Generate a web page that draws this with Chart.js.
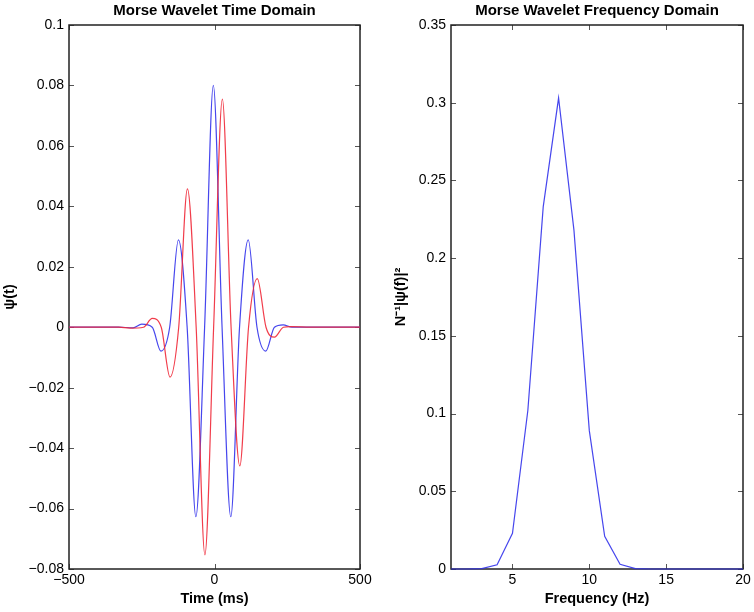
<!DOCTYPE html>
<html>
<head>
<meta charset="utf-8">
<script src="https://cdn.jsdelivr.net/npm/chart.js@4.4.1/dist/chart.umd.min.js"></script>
<style>
body { margin: 0; background: #fff; }
canvas { position: absolute; top: 0; }
#timeChart { left: 0; }
#freqChart { left: 377px; }
</style>
</head>
<body>
<canvas id="timeChart" width="377" height="612"></canvas>
<canvas id="freqChart" width="377" height="612"></canvas>
<script>
// tick labels
var timeTicksX = [-500, 0, 500];
var timeTicksY = [-0.08, -0.06, -0.04, -0.02, 0, 0.02, 0.04, 0.06, 0.08, 0.1];
var freqTicksX = [5, 10, 15, 20];
var freqTicksY = [0, 0.05, 0.1, 0.15, 0.2, 0.25, 0.3, 0.35];

// time domain (extrema and zero crossings)
var realTime   = [-500, -330, -280, -250, -214, -184, -154, -124, -94, -64, -34, -4, 26, 56, 86, 116, 146, 176, 206, 236, 266, 320, 500];
var realValues = [0, 0, -0.0002, 0.001, 0, -0.0079, 0, 0.0289, 0, -0.0627, 0, 0.080, 0, -0.0627, 0, 0.0289, 0, -0.0079, 0, 0.0008, 0, 0, 0];
var imagTime   = [-500, -330, -290, -244, -214, -183, -153, -123, -93, -63, -33, -3, 27, 57, 87, 117, 147, 177, 206, 237, 262, 330, 500];
var imagValues = [0, 0, -0.0003, 0, 0.0029, 0, -0.0165, 0, 0.0458, 0, -0.0753, 0, 0.0755, 0, -0.0459, 0, 0.0161, 0, -0.0033, 0, 0.0002, 0, 0];

// frequency domain
var freqHz    = [1, 2, 3, 4, 5, 6, 7, 8, 9, 10, 11, 12, 13, 14, 15, 16, 17, 18, 19, 20];
var freqPower = [0, 0, 0.0003, 0.0027, 0.023, 0.102, 0.233, 0.303, 0.218, 0.089, 0.021, 0.003, 0.0003, 0, 0, 0, 0, 0, 0, 0];

Chart.defaults.font.family = '"Liberation Sans", Arial, sans-serif';
Chart.defaults.color = '#000';

function pts(xs, ys) {
    return xs.map(function (x, i) { return { x: x, y: ys[i] }; });
}
function fmt(v) {
    var s = String(parseFloat(Math.abs(v).toFixed(2)));
    return (v < 0 ? '\u2212' : '') + s;
}
function setTicks(list) {
    return function (scale) { scale.ticks = list.map(function (v) { return { value: v }; }); };
}

// matlab style box with inward ticks on all sides
var boxTicks = {
    id: 'boxTicks',
    beforeDatasetsDraw: function (chart) {
        var ctx = chart.ctx, a = chart.chartArea;
        var xs = chart.scales.x, ys = chart.scales.y;
        ctx.save();
        ctx.strokeStyle = '#555';
        ctx.lineWidth = 1;
        ctx.beginPath();
        xs.ticks.forEach(function (t) {
            var px = Math.round(xs.getPixelForValue(t.value)) + 0.5;
            ctx.moveTo(px, a.bottom); ctx.lineTo(px, a.bottom - 5);
            ctx.moveTo(px, a.top); ctx.lineTo(px, a.top + 5);
        });
        ys.ticks.forEach(function (t) {
            var py = Math.round(ys.getPixelForValue(t.value)) + 0.5;
            ctx.moveTo(a.left, py); ctx.lineTo(a.left + 5, py);
            ctx.moveTo(a.right, py); ctx.lineTo(a.right - 5, py);
        });
        ctx.stroke();
        ctx.strokeStyle = '#222';
        ctx.lineWidth = 1.5;
        ctx.strokeRect(a.left, a.top, a.width, a.height);
        ctx.restore();
    }
};

function axisOpts(min, max, ticks, title, size, pad, titlePad) {
    return {
        type: 'linear', min: min, max: max,
        grid: { display: false, drawTicks: false },
        border: { display: false },
        afterBuildTicks: setTicks(ticks),
        ticks: { font: { size: 14 }, padding: pad, callback: fmt, autoSkip: false, maxRotation: 0 },
        title: { display: true, text: title, font: { size: 14.5, weight: 'bold' }, padding: titlePad }
    };
}

var timeX = axisOpts(-500, 500, timeTicksX, 'Time (ms)', 14, 3, { top: 0, bottom: 4 });
timeX.afterFit = function (scale) { scale.height = 43; };
var timeY = axisOpts(-0.08, 0.1, timeTicksY, '\u03c8(t)', 14, 5, { top: 1, bottom: 0 });
timeY.afterFit = function (scale) { scale.width = 69; };

var timeChart = new Chart('timeChart', {
    type: 'line',
    data: {
        datasets: [{
            label: 'real',
            data: pts(realTime, realValues),
            borderColor: 'rgba(50,50,235,0.9)',
            borderWidth: 1.2,
            pointRadius: 0,
            cubicInterpolationMode: 'monotone',
            order: 1
        }, {
            label: 'imag',
            data: pts(imagTime, imagValues),
            borderColor: 'rgba(240,40,55,0.9)',
            borderWidth: 1.2,
            pointRadius: 0,
            cubicInterpolationMode: 'monotone',
            order: 0
        }]
    },
    options: {
        responsive: false,
        animation: false,
        layout: { padding: { left: 0, right: 17, top: 0, bottom: 0 } },
        scales: { x: timeX, y: timeY },
        plugins: {
            legend: { display: false },
            tooltip: { enabled: false },
            title: {
                display: true, fullSize: false,
                text: 'Morse Wavelet Time Domain',
                font: { size: 15, weight: 'bold' },
                padding: { top: 2, bottom: 5 }
            }
        }
    },
    plugins: [boxTicks]
});

var freqX = axisOpts(1, 20, freqTicksX, 'Frequency (Hz)', 14, 3, { top: 0, bottom: 4 });
freqX.afterFit = function (scale) { scale.height = 43; };
var freqY = axisOpts(0, 0.35, freqTicksY, 'N\u207b\u00b9|\u03c8(f)|\u00b2', 14, 5, { top: 15, bottom: 0 });
freqY.afterFit = function (scale) { scale.width = 74; };

var freqChart = new Chart('freqChart', {
    type: 'line',
    data: {
        datasets: [{
            label: 'power',
            data: pts(freqHz, freqPower),
            borderColor: 'rgba(50,50,235,0.9)',
            borderWidth: 1.2,
            pointRadius: 0,
            tension: 0,
            clip: 3
        }]
    },
    options: {
        responsive: false,
        animation: false,
        layout: { padding: { left: 0, right: 11, top: 0, bottom: 0 } },
        scales: { x: freqX, y: freqY },
        plugins: {
            legend: { display: false },
            tooltip: { enabled: false },
            title: {
                display: true, fullSize: false,
                text: 'Morse Wavelet Frequency Domain',
                font: { size: 15, weight: 'bold' },
                padding: { top: 2, bottom: 5 }
            }
        }
    },
    plugins: [boxTicks]
});
</script>
</body>
</html>
